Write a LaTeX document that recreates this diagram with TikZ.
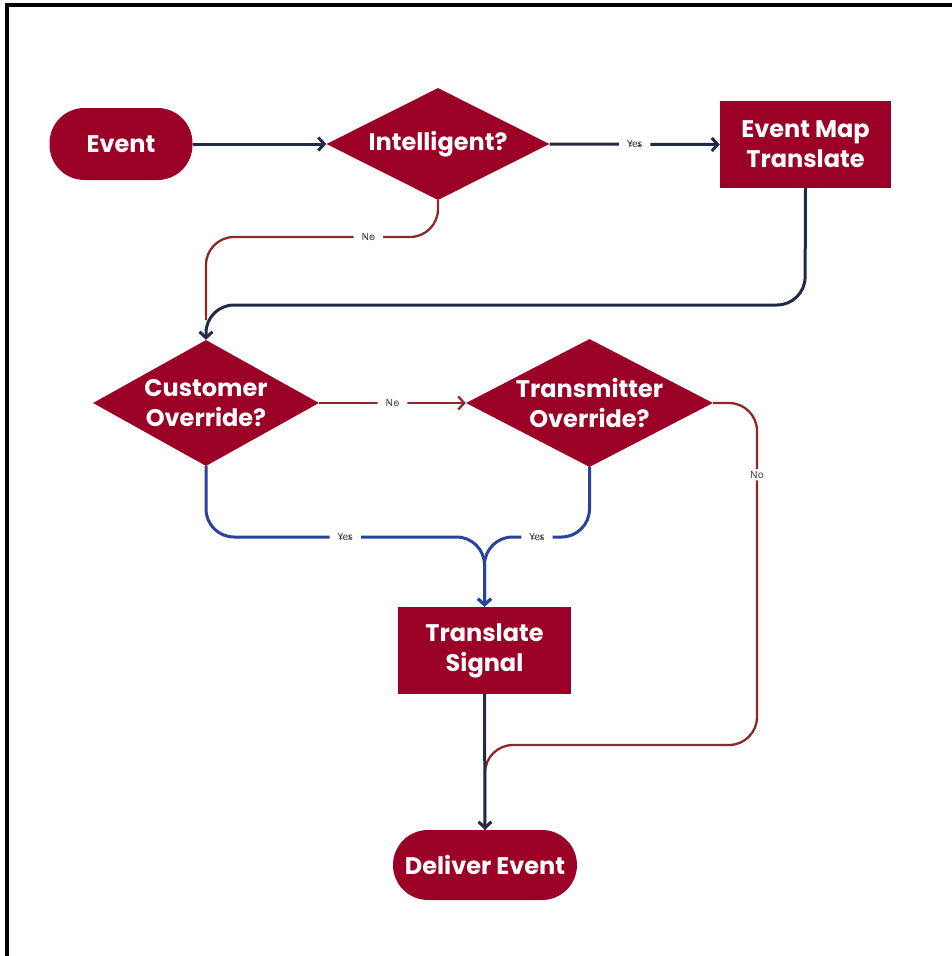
\documentclass[tikz,border=0pt]{standalone}
\usepackage{fontspec}
\setmainfont{Poppins}
\newfontfamily\lblfont{Open Sans}
\usetikzlibrary{shapes.geometric,arrows.meta}
\definecolor{boxred}{RGB}{155,0,38}
\definecolor{navyline}{RGB}{33,42,70}
\definecolor{redline}{RGB}{140,40,40}
\definecolor{blueline}{RGB}{42,66,152}
\definecolor{lblgray}{RGB}{50,50,50}
\begin{document}
\begin{tikzpicture}[x=1pt,y=-1pt,
 box/.style={fill=boxred, text=white, font=\bfseries\fontsize{24}{30}\selectfont, align=center, inner sep=0pt},
 pill/.style={box, rectangle, rounded corners=35pt},
 proc/.style={box, rectangle},
 dec/.style={box, diamond, shape aspect=2},
 conn/.style={line width=3pt, rounded corners=28pt},
 thin/.style={line width=2.3pt, rounded corners=28pt},
 tip/.style={-{Straight Barb[length=6pt,width=13pt]}},
 lbl/.style={fill=white, text=lblgray, font=\lblfont\fontsize{10}{11}\selectfont, inner xsep=8pt, inner ysep=2pt}
]
\useasboundingbox (0,0) rectangle (952,956);
\draw[line width=4pt] (7,956) -- (7,5.3) -- (952,5.3);

\node[pill, minimum width=143pt, minimum height=72pt] (event) at (121,144) {Event};
\node[dec, minimum width=223pt, minimum height=112pt] (int) at (438,144) {Intelligent?};
\node[proc, minimum width=171pt, minimum height=87pt] (emt) at (805.5,144.5) {Event Map\\Translate};
\node[dec, minimum width=226pt, minimum height=126pt] (cust) at (206,403) {Customer\\Override?};
\node[dec, minimum width=247pt, minimum height=128pt] (trans) at (589.5,403) {Transmitter\\Override?};
\node[proc, minimum width=173pt, minimum height=87pt] (ts) at (484.5,650.5) {Translate\\Signal};
\node[pill, minimum width=184pt, minimum height=70pt] (del) at (485,865) {Deliver Event};

\draw[conn, navyline, tip] (event.east) -- (int.west);
\draw[conn, navyline, tip] (int.east) -- node[lbl] (l1) {Yes} (emt.west);
\draw[thin, redline] (int.south) -- (438,237) -- node[lbl, pos=0.3] (l2) {No} (206,237) -- (206,320);
\draw[conn, navyline, tip] (emt.south) -- (805,305) -- (206,305) -- (cust.north);
\draw[thin, redline, tip] (cust.east) -- node[lbl] (l3) {No} (trans.west);
\draw[conn, blueline, tip] (cust.south) -- (206,537) -- node[lbl] (l4) {Yes} (484.5,537) -- (ts.north);
\draw[conn, blueline, tip] (trans.south) -- (589.5,537) -- node[lbl] (l5) {Yes} (484.5,537) -- (ts.north);
\draw[thin, redline] (trans.east) -- (757,403) -- node[lbl, pos=0.21] (l6) {No} (757,745) -- (485,745) -- (del.north);
\draw[conn, navyline, tip] (ts.south) -- (del.north);
\end{tikzpicture}
\end{document}
